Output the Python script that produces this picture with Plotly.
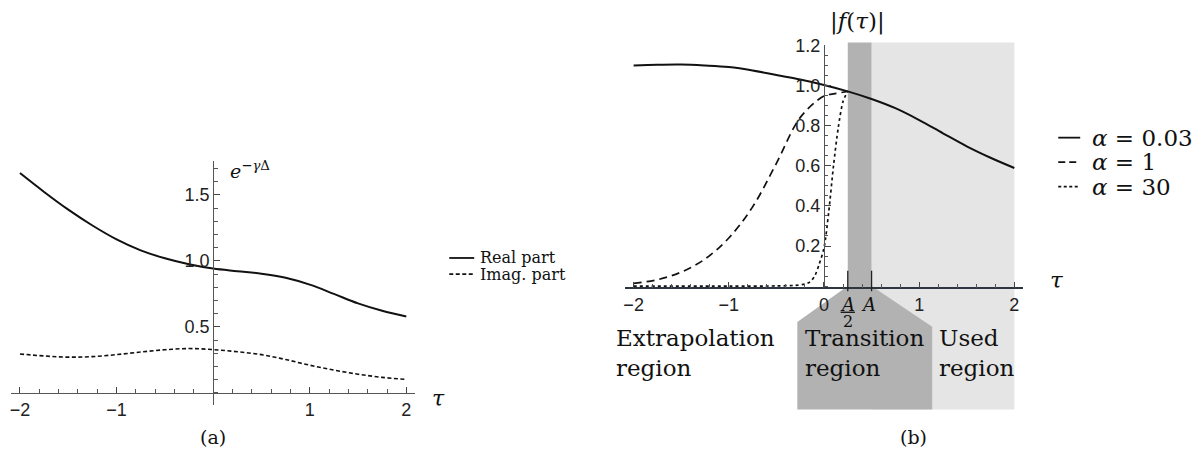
import plotly.graph_objects as go

W, H = 1204, 459

# ---- panel (a): e^{-gamma Delta} vs tau ----
tau_a = [-2.0, -1.75, -1.5, -1.25, -1.0, -0.75, -0.5, -0.25, 0.0,
         0.25, 0.5, 0.75, 1.0, 1.25, 1.5, 1.75, 2.0]
real_part = [1.665, 1.522, 1.388, 1.268, 1.163, 1.080, 1.020, 0.975, 0.942,
             0.922, 0.903, 0.872, 0.820, 0.750, 0.678, 0.622, 0.579]
imag_part = [0.295, 0.280, 0.271, 0.275, 0.290, 0.310, 0.327, 0.336, 0.328,
             0.312, 0.290, 0.253, 0.210, 0.173, 0.142, 0.118, 0.102]

# ---- panel (b): |f(tau)| for three alpha values ----
tau_b = [-2.0, -1.75, -1.5, -1.25, -1.0, -0.75, -0.5, -0.25, 0.0,
         0.25, 0.5, 0.75, 1.0, 1.25, 1.5, 1.75, 2.0]
f_alpha_003 = [1.100, 1.104, 1.105, 1.100, 1.092, 1.075, 1.052, 1.030, 1.003,
               0.971, 0.933, 0.887, 0.828, 0.762, 0.697, 0.640, 0.589]

tau_b1 = [-2.0, -1.75, -1.5, -1.25, -1.0, -0.75, -0.5, -0.25, 0.0, 0.1, 0.25]
f_alpha_1 = [0.014, 0.032, 0.070, 0.135, 0.240, 0.395, 0.612, 0.840, 0.948,
             0.958, 0.971]

tau_b30 = [-2.0, -1.0, -0.5, -0.3, -0.2, -0.15, -0.1, -0.05, 0.0,
           0.05, 0.1, 0.15, 0.2, 0.25]
f_alpha_30 = [0.0, 0.0, 0.001, 0.004, 0.010, 0.020, 0.048, 0.110, 0.190,
              0.370, 0.600, 0.790, 0.920, 0.971]

A = 0.5

x_ticks_a = [-2, -1, 1, 2]
y_ticks_a = [0.5, 1.0, 1.5]
x_ticks_b = [-2, -1, 0, 1, 2]
y_ticks_b = [0.2, 0.4, 0.6, 0.8, 1.0, 1.2]

SERIF = "DejaVu Serif"
SANS = "Liberation Sans"
INK = "#111111"


def fx(px):
    return px / W


def fy(py):
    return 1 - py / H


# axis geometry
xr_a = [-2.09, 2.09]
yr_a = [-0.09, 1.76]
xd_a = [fx(9.3), fx(413.7)]
yd_a = [fy(403.6), fy(153.9)]

xr_b = [-2.09, 2.09]
yr_b = [-0.006, 1.2]
xd_b = [fx(624.1), fx(1022.6)]
yd_b = [fy(283.5), fy(36.2)]


def frac(v, rng, dom):
    return dom[0] + (v - rng[0]) / (rng[1] - rng[0]) * (dom[1] - dom[0])


fig = go.Figure()

fig.add_trace(go.Scatter(x=tau_a, y=real_part, mode="lines",
                         line=dict(color=INK, width=2, shape="spline"),
                         xaxis="x", yaxis="y", showlegend=False))
fig.add_trace(go.Scatter(x=tau_a, y=imag_part, mode="lines",
                         line=dict(color=INK, width=1.6, dash="4px,2.5px",
                                   shape="spline"),
                         xaxis="x", yaxis="y", showlegend=False))

fig.add_trace(go.Scatter(x=tau_b, y=f_alpha_003, mode="lines",
                         line=dict(color=INK, width=2, shape="spline"),
                         xaxis="x2", yaxis="y2", showlegend=False))
fig.add_trace(go.Scatter(x=tau_b1, y=f_alpha_1, mode="lines",
                         line=dict(color=INK, width=1.7, dash="8px,5px",
                                   shape="spline"),
                         xaxis="x2", yaxis="y2", showlegend=False))
fig.add_trace(go.Scatter(x=tau_b30, y=f_alpha_30, mode="lines",
                         line=dict(color=INK, width=1.7, dash="3px,3px",
                                   shape="spline", smoothing=0.8),
                         xaxis="x2", yaxis="y2", showlegend=False))

tickfont = dict(family=SANS, size=18, color="#222222")
axis_common = dict(showgrid=False, zeroline=False, showline=True,
                   ticks="inside", ticklen=6, tickwidth=1, tickcolor="#444444",
                   tickfont=tickfont, fixedrange=True)

fig.update_layout(
    width=W, height=H,
    margin=dict(l=0, r=0, t=0, b=0, pad=0),
    paper_bgcolor="white", plot_bgcolor="rgba(0,0,0,0)",
    xaxis=dict(axis_common, range=xr_a, domain=xd_a, anchor="free",
               position=frac(0, yr_a, yd_a), tickvals=x_ticks_a,
               linecolor="#555555", linewidth=1,
               minor=dict(dtick=0.2, tick0=0, ticks="inside", ticklen=3.5,
                          tickcolor="#555555")),
    yaxis=dict(axis_common, range=yr_a, domain=yd_a, anchor="free",
               position=frac(0, xr_a, xd_a), tickvals=y_ticks_a,
               tickformat=".1f", linecolor="#555555", linewidth=1,
               minor=dict(dtick=0.1, tick0=0, ticks="inside", ticklen=3.5,
                          tickcolor="#555555")),
    xaxis2=dict(axis_common, range=xr_b, domain=xd_b, anchor="y2",
                tickvals=x_ticks_b, linecolor="#2e3540", linewidth=1.5,
                minor=dict(dtick=0.2, tick0=0, ticks="inside", ticklen=3.5,
                           tickcolor="#555555")),
    yaxis2=dict(axis_common, range=yr_b, domain=yd_b, anchor="free",
                position=frac(0, xr_b, xd_b), tickvals=y_ticks_b,
                tickformat=".1f", linecolor="#555555", linewidth=1,
                minor=dict(dtick=0.05, tick0=0, ticks="inside", ticklen=3.5,
                           tickcolor="#555555")),
)

# ---- shaded regions of panel (b) ----
LIGHT = "#e5e5e5"
DARK = "#b2b2b2"
y_axis_dom = (0 - yr_b[0]) / (yr_b[1] - yr_b[0])
top_dom = 1.012
bottom_dom = -0.505
shapes = [
    dict(type="rect", xref="x2", yref="y2 domain", x0=A, x1=2.0,
         y0=bottom_dom, y1=top_dom, fillcolor=LIGHT, line=dict(width=0),
         layer="below"),
    dict(type="rect", xref="x2", yref="y2 domain", x0=A / 2, x1=A,
         y0=y_axis_dom, y1=top_dom, fillcolor=DARK, line=dict(width=0),
         layer="below"),
    dict(type="path", xref="x2", yref="y2 domain",
         path=(f"M {A / 2},{y_axis_dom} L -0.28,-0.143 L -0.28,{bottom_dom} "
               f"L 1.137,{bottom_dom} L 1.137,-0.163 L {A},{y_axis_dom} Z"),
         fillcolor=DARK, line=dict(width=0), layer="below"),
]

# long ticks at A/2 and A
for xv in (A / 2, A):
    shapes.append(dict(type="line", xref="x2", yref="paper", x0=xv, x1=xv,
                       y0=fy(266.5), y1=fy(287.5),
                       line=dict(color="#222222", width=1.3)))
# fraction bar of A/2
shapes.append(dict(type="line", xref="x2", yref="paper", x0=A / 2 - 0.075,
                   x1=A / 2 + 0.075, y0=fy(309), y1=fy(309),
                   line=dict(color=INK, width=1.3)))

# legend samples
legend_a = [("solid", 253.5), ("4px,2.5px", 270)]
for dash, yy in legend_a:
    shapes.append(dict(type="line", xref="paper", yref="paper",
                       x0=fx(448), x1=fx(473), y0=fy(yy), y1=fy(yy),
                       line=dict(color=INK, width=1.8, dash=dash)))
legend_b = [("solid", 130.5), ("7px,4px", 155.5), ("3px,2.5px", 180.5)]
for dash, yy in legend_b:
    shapes.append(dict(type="line", xref="paper", yref="paper",
                       x0=fx(1058), x1=fx(1080), y0=fy(yy), y1=fy(yy),
                       line=dict(color=INK, width=1.8, dash=dash)))

fig.update_layout(shapes=shapes)


def note(text, x, y, size, xanchor="left", yanchor="middle", xref="paper",
         align="left", family=SERIF):
    fig.add_annotation(text=text, x=x, y=y, xref=xref, yref="paper",
                       xanchor=xanchor, yanchor=yanchor, showarrow=False,
                       align=align,
                       font=dict(family=family, size=size, color=INK))


# panel (a) labels
note("<i>e</i><sup>−<i>γ</i>Δ</sup>", fx(226), fy(164), 19)
note("<i>τ</i>", fx(437), fy(397), 22, xanchor="center")
note("Real part", fx(477), fy(253.5), 16)
note("Imag. part", fx(477), fy(270), 16)
note("(a)", fx(211), fy(437), 19, xanchor="center")

# panel (b) labels
note("|<i>f</i>(<i>τ</i>)|", fx(827), fy(12), 23)
note("<i>τ</i>", fx(1057), fy(276), 23, xanchor="center")
note("<i>α</i> = 0.03", fx(1090), fy(130.5), 23)
note("<i>α</i> = 1", fx(1090), fy(155.5), 23)
note("<i>α</i> = 30", fx(1090), fy(180.5), 23)
note("<i>A</i>", A / 2, fy(301), 18, xanchor="center", xref="x2")
note("2", A / 2, fy(318), 16, xanchor="center", xref="x2")
note("<i>A</i>", A - 0.03, fy(301), 18, xanchor="center", xref="x2")
note("Extrapolation<br>region", fx(613), fy(351), 23)
note("Transition<br>region", fx(802), fy(351), 23)
note("Used<br>region", fx(937), fy(351), 23)
note("(b)", fx(913), fy(437), 19, xanchor="center")

fig.write_html("out.html")
